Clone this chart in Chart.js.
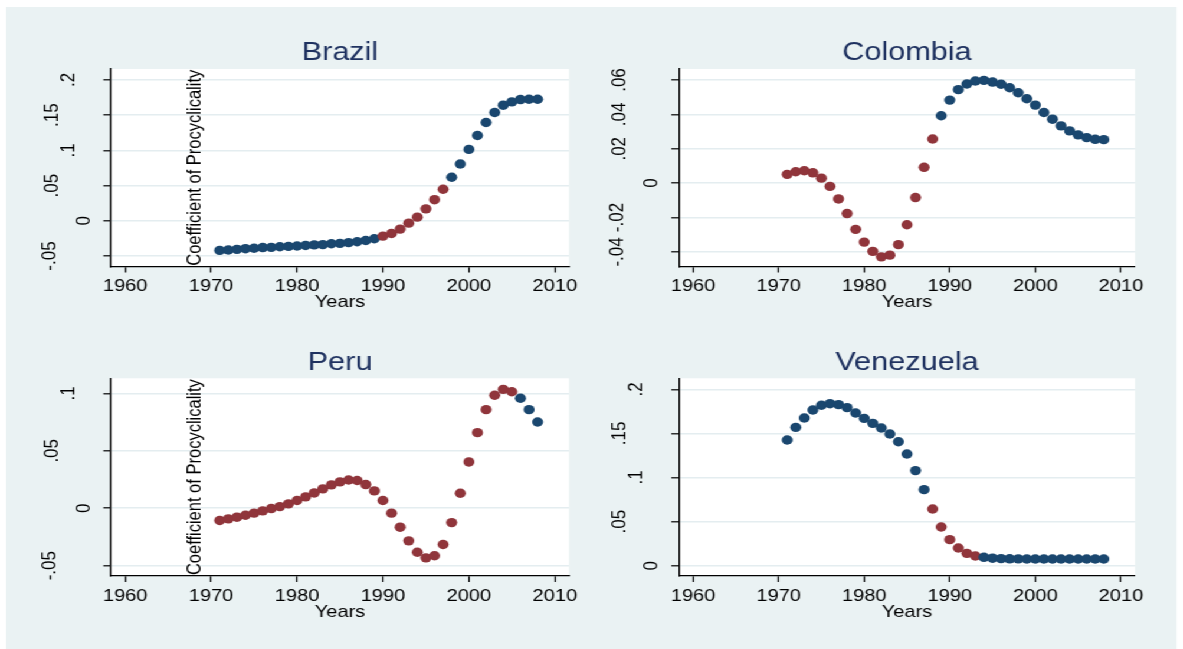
<!DOCTYPE html>
<html>
<head>
<meta charset="utf-8">
<title>Coefficient of Procyclicality</title>
<script src="https://cdn.jsdelivr.net/npm/chart.js@4.4.1/dist/chart.umd.min.js"></script>
<style>
  html, body { margin: 0; padding: 0; background: #ffffff; width: 1183px; height: 649px; overflow: hidden; }
  #stage { position: absolute; left: 0; top: 0; width: 1002.5px; height: 649px; transform: scaleX(1.18); transform-origin: 0 0; }
  #bg { position: absolute; left: 5.1px; top: 7px; width: 992.4px; height: 642px; background: #eaf2f3; }
  canvas { position: absolute; }
</style>
</head>
<body>
<div id="stage">
  <div id="bg"></div>
  <canvas id="brazil"></canvas>
  <canvas id="colombia"></canvas>
  <canvas id="peru"></canvas>
  <canvas id="venezuela"></canvas>
</div>
<script>
// ---- data ----
const years = [1971, 1972, 1973, 1974, 1975, 1976, 1977, 1978, 1979, 1980,
               1981, 1982, 1983, 1984, 1985, 1986, 1987, 1988, 1989, 1990,
               1991, 1992, 1993, 1994, 1995, 1996, 1997, 1998, 1999, 2000,
               2001, 2002, 2003, 2004, 2005, 2006, 2007, 2008];

const brazilValues = [-0.0420, -0.0415, -0.0406, -0.0396, -0.0390, -0.0380, -0.0377, -0.0368, -0.0363, -0.0358,
                      -0.0350, -0.0342, -0.0338, -0.0326, -0.0320, -0.0310, -0.0297, -0.0280, -0.0255, -0.0217,
                      -0.0180, -0.0118, -0.0033, 0.0052, 0.0170, 0.0300, 0.0448, 0.0618, 0.0807, 0.1014,
                      0.1212, 0.1396, 0.1538, 0.1642, 0.1689, 0.1722, 0.1726, 0.1726];

const colombiaValues = [0.0051, 0.0066, 0.0072, 0.0060, 0.0029, -0.0019, -0.0092, -0.0177, -0.0269, -0.0343,
                        -0.0397, -0.0429, -0.0419, -0.0358, -0.0242, -0.0084, 0.0092, 0.0257, 0.0392, 0.0483,
                        0.0544, 0.0577, 0.0594, 0.0598, 0.0588, 0.0575, 0.0555, 0.0526, 0.0491, 0.0454,
                        0.0411, 0.0372, 0.0333, 0.0304, 0.0281, 0.0265, 0.0255, 0.0253];

const peruValues = [-0.0107, -0.0093, -0.0078, -0.0061, -0.0043, -0.0023, -0.0003, 0.0014, 0.0038, 0.0067,
                    0.0099, 0.0133, 0.0168, 0.0203, 0.0229, 0.0246, 0.0241, 0.0206, 0.0151, 0.0067,
                    -0.0043, -0.0165, -0.0284, -0.0383, -0.0432, -0.0414, -0.0316, -0.0125, 0.0130, 0.0403,
                    0.0658, 0.0858, 0.0983, 0.1035, 0.1014, 0.0957, 0.0858, 0.0751];

const venezuelaValues = [0.1425, 0.1569, 0.1675, 0.1766, 0.1819, 0.1837, 0.1826, 0.1792, 0.1732, 0.1671,
                         0.1614, 0.1561, 0.1493, 0.1406, 0.1267, 0.1078, 0.0862, 0.0643, 0.0439, 0.0295,
                         0.0200, 0.0140, 0.0110, 0.0095, 0.0085, 0.0080, 0.0078, 0.0077, 0.0076, 0.0076,
                         0.0076, 0.0076, 0.0076, 0.0076, 0.0076, 0.0076, 0.0076, 0.0076];

// years drawn in the second (maroon) colour
const brazilMaroonYears = [1990, 1991, 1992, 1993, 1994, 1995, 1996, 1997];
const colombiaMaroonYears = [1971, 1972, 1973, 1974, 1975, 1976, 1977, 1978, 1979, 1980,
                             1981, 1982, 1983, 1984, 1985, 1986, 1987, 1988];
const peruMaroonYears = [1971, 1972, 1973, 1974, 1975, 1976, 1977, 1978, 1979, 1980,
                         1981, 1982, 1983, 1984, 1985, 1986, 1987, 1988, 1989, 1990,
                         1991, 1992, 1993, 1994, 1995, 1996, 1997, 1998, 1999, 2000,
                         2001, 2002, 2003, 2004, 2005];
const venezuelaMaroonYears = [1988, 1989, 1990, 1991, 1992, 1993];

// tick values
const xTickValues = [1960, 1970, 1980, 1990, 2000, 2010];
const brazilYTicks = [-0.05, 0, 0.05, 0.1, 0.15, 0.2];
const colombiaYTicks = [-0.04, -0.02, 0, 0.02, 0.04, 0.06];
const peruYTicks = [-0.05, 0, 0.05, 0.1];
const venezuelaYTicks = [0, 0.05, 0.1, 0.15, 0.2];

// ---- styling / layout ----
const FONT = "'Liberation Sans', Arial, Helvetica, sans-serif";
const NAVY = '#1a476f';
const MAROON = '#90353b';
const TITLE_COLOR = '#1f3260';
const SX = 1.18;                 // horizontal stretch applied to the stage
const X_MIN = 1958.35, X_MAX = 2011.65;

// distance (screen px) from the y axis to the centre of a rotated tick label, by label length
const yLabelGap = { 1: 27, 2: 42, 3: 59, 4: 61 };

const columns = [
  { cx: 5,   cw: 495, left: 94.07,  right: 482.2 },
  { cx: 500, cw: 498, left: 575.4,  right: 961.9 }
];
const rows = [
  { cy: 7,   ch: 320, top: 69,    bottom: 266.5, titleY: 52.7 },
  { cy: 327, ch: 321, top: 378.3, bottom: 576,   titleY: 363.3 }
];

function stataLabel(v) {
  if (Math.abs(v) < 1e-9) return '0';
  const s = String(Math.round(v * 1000) / 1000);
  return s.replace(/^(-?)0\./, '$1.');
}

// white plot region, rotated y tick labels and the rotated axis caption
const stataLook = {
  id: 'stataLook',
  beforeDraw(chart) {
    const a = chart.chartArea, ctx = chart.ctx;
    ctx.save();
    ctx.fillStyle = '#ffffff';
    ctx.fillRect(a.left, a.top, a.right - a.left, a.bottom - a.top);
    ctx.restore();
  },
  afterDraw(chart, args, opts) {
    const a = chart.chartArea, ctx = chart.ctx, ys = chart.scales.y;
    ctx.save();
    ctx.fillStyle = '#000000';
    ctx.textAlign = 'center';
    ctx.textBaseline = 'middle';
    ctx.font = '17px ' + FONT;
    ys.ticks.forEach(t => {
      const txt = stataLabel(t.value);
      const x = a.left - (yLabelGap[txt.length] || 61) / SX;
      const y = ys.getPixelForValue(t.value);
      ctx.save();
      ctx.translate(x, y);
      ctx.rotate(-Math.PI / 2);
      ctx.fillText(txt, 0, 0);
      ctx.restore();
    });
    if (opts.caption) {
      ctx.font = '16.5px ' + FONT;
      ctx.translate(a.left + 71.2, (a.top + a.bottom) / 2);
      ctx.rotate(-Math.PI / 2);
      ctx.fillText(opts.caption, 0, 0);
    }
    ctx.restore();
  }
};

const panels = [
  { id: 'brazil',    title: 'Brazil',    values: brazilValues,    maroon: brazilMaroonYears,    yTicks: brazilYTicks,    yMin: -0.0649, yMax: 0.2156, caption: true,  col: 0, row: 0 },
  { id: 'colombia',  title: 'Colombia',  values: colombiaValues,  maroon: colombiaMaroonYears,  yTicks: colombiaYTicks,  yMin: -0.0485, yMax: 0.0664, caption: false, col: 1, row: 0 },
  { id: 'peru',      title: 'Peru',      values: peruValues,      maroon: peruMaroonYears,      yTicks: peruYTicks,      yMin: -0.0590, yMax: 0.1131, caption: true,  col: 0, row: 1 },
  { id: 'venezuela', title: 'Venezuela', values: venezuelaValues, maroon: venezuelaMaroonYears, yTicks: venezuelaYTicks, yMin: -0.0117, yMax: 0.2125, caption: false, col: 1, row: 1 }
];

panels.forEach(p => {
  const col = columns[p.col], row = rows[p.row];
  const canvas = document.getElementById(p.id);
  canvas.width = col.cw;
  canvas.height = row.ch;
  canvas.style.left = col.cx + 'px';
  canvas.style.top = row.cy + 'px';

  const titleSize = 26;
  const titlePadTop = row.titleY - row.cy - titleSize / 2;
  const titlePadBottom = row.top - row.cy - titleSize - titlePadTop;
  const xAxisHeight = row.cy + row.ch - row.bottom;
  const colors = years.map(y => p.maroon.includes(y) ? MAROON : NAVY);

  new Chart(canvas, {
    type: 'scatter',
    data: {
      datasets: [{
        data: years.map((y, i) => ({ x: y, y: p.values[i] })),
        pointRadius: 4.7,
        pointHoverRadius: 4.7,
        pointBorderWidth: 0,
        pointBackgroundColor: colors,
        pointBorderColor: colors,
        showLine: false
      }]
    },
    options: {
      responsive: false,
      animation: false,
      devicePixelRatio: 1,
      events: [],
      layout: { padding: { left: 0, top: 0, bottom: 0, right: col.cx + col.cw - col.right } },
      plugins: {
        legend: { display: false },
        tooltip: { enabled: false },
        title: {
          display: true,
          fullSize: false,
          text: p.title,
          color: TITLE_COLOR,
          font: { family: FONT, size: titleSize, weight: 'normal', lineHeight: 1 },
          padding: { top: titlePadTop, bottom: titlePadBottom }
        },
        stataLook: { caption: p.caption ? 'Coefficient of Procyclicality' : null }
      },
      scales: {
        x: {
          type: 'linear',
          position: 'bottom',
          min: X_MIN,
          max: X_MAX,
          afterBuildTicks: s => { s.ticks = xTickValues.map(v => ({ value: v })); },
          afterFit: s => { s.height = xAxisHeight; },
          ticks: { color: '#000', font: { family: FONT, size: 17 }, padding: 4, maxRotation: 0, autoSkip: false, callback: v => String(v) },
          grid: { drawOnChartArea: false, drawTicks: true, tickLength: 6, tickColor: '#000', tickWidth: 1.2 },
          border: { display: true, color: '#000', width: 1.3 },
          title: {
            display: true, text: 'Years', color: '#000',
            font: { family: FONT, size: 17, lineHeight: 1 },
            padding: { top: 0, bottom: xAxisHeight - 8.5 - 36 }
          }
        },
        y: {
          type: 'linear',
          position: 'left',
          min: p.yMin,
          max: p.yMax,
          afterBuildTicks: s => { s.ticks = p.yTicks.map(v => ({ value: v })); },
          afterFit: s => { s.width = col.left - col.cx; },
          ticks: { display: false },
          grid: { color: '#e4edf0', lineWidth: 1.6, drawTicks: true, tickLength: 6.5, tickColor: '#000', tickWidth: 1.2 },
          border: { display: true, color: '#000', width: 1.3 }
        }
      }
    },
    plugins: [stataLook]
  });
});
</script>
</body>
</html>
